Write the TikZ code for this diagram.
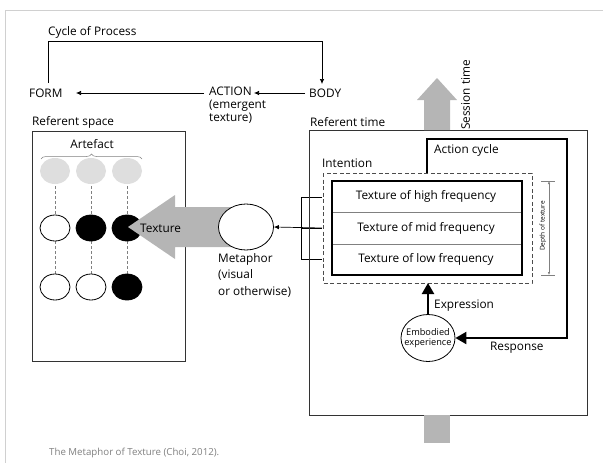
\documentclass[tikz,border=0pt]{standalone}
\usepackage{fontspec}
\setmainfont{Open Sans}
\usetikzlibrary{arrows.meta,decorations.pathreplacing,shapes.geometric}
\definecolor{arrgray}{HTML}{B5B5B5}
\definecolor{ltgray}{HTML}{DEDEDE}
\definecolor{framegray}{HTML}{D0D0D0}
\begin{document}
\begin{tikzpicture}[x=1pt,y=-1pt,
  lbl/.style={font=\fontsize{11.8}{13}\selectfont,inner sep=0pt},
  thinarrow/.style={-{Latex[length=5pt,width=4.5pt]},line width=0.7pt},
  thickarrow/.style={-{Triangle[length=11pt,width=12pt]},line width=2.2pt},
  dot/.style={ellipse,minimum width=30pt,minimum height=26pt,inner sep=0pt,line width=0.8pt},
  bigellipse/.style={ellipse,draw,line width=0.8pt,minimum width=55pt,minimum height=46pt,inner sep=0pt},
  vdash/.style={dashed,draw=gray,line width=0.7pt,dash pattern=on 3pt off 2pt}
]
\useasboundingbox (0,0) rectangle (603,463);
% frame
\draw[framegray,line width=1pt] (5,463) -- (5,10) -- (603,10);

% top cycle
\node[lbl,anchor=west] (form) at (29,93) {FORM};
\node[lbl,anchor=north west,align=left,font=\fontsize{11.8}{13}\selectfont] (action) at (209,87) {ACTION\\(emergent\\texture)};
\node[lbl,anchor=west] (body) at (309,93) {BODY};
\node[lbl,anchor=south west] (cycle) at (48,39) {Cycle of Process};
\coordinate (ctl) at (48,41);
\coordinate (ctr) at (322,41);
\draw[line width=0.7pt] (48,83) -- (ctl) -- (ctr);
\draw[thinarrow] (ctr) -- (322,84);
\draw[thinarrow] (305,93) -- (254,93);
\draw[thinarrow] (204,93) -- (76,93);

% left box
\node[lbl,anchor=west] (refspace) at (32,122) {Referent space};
\draw[line width=0.7pt,draw=black!80] (32,131) rectangle (185,361);
\node[lbl,anchor=south] (artefact) at (92,149) {Artefact};
\draw[decorate,decoration={brace,amplitude=5pt},draw=gray,line width=0.5pt] (41,159) -- (142,159);

% dots
\foreach \c/\x in {1/55,2/91,3/127}{
  \draw[vdash] (\x,171) -- (\x,287);
}
\foreach \c/\x in {1/55,2/91,3/127}{
  \node[dot,fill=ltgray] (g\c) at (\x,171) {};
}
\node[dot,draw,fill=white] (m1) at (55,228) {};
\node[dot,draw,fill=black] (m2) at (91,228) {};
\node[dot,draw,fill=black] (m3) at (127,228) {};
\node[dot,draw,fill=white] (b1) at (55,287) {};
\node[dot,draw,fill=white] (b2) at (91,287) {};
\node[dot,draw,fill=black] (b3) at (127,287) {};

% texture arrow
\fill[arrgray] (128,227) -- (175,195) -- (175,207) -- (235,207) -- (235,247) -- (175,247) -- (175,259) -- cycle;
\node[lbl,anchor=west] (texture) at (140,228) {Texture};

% metaphor
\node[bigellipse,fill=white] (metaphor) at (246,227) {};
\node[lbl,anchor=north west,align=left,font=\fontsize{11.8}{16.5}\selectfont] (metlbl) at (218,253) {Metaphor\\(visual\\or otherwise)};

% bracket and arrow
\coordinate (br1) at (322,197);
\coordinate (br2) at (322,228);
\coordinate (br3) at (322,259);
\draw[line width=0.7pt] (br1) -- (301,197) -- (301,259) -- (br3);
\draw[line width=0.7pt] (301,228) -- (br2);
\draw[thinarrow] (br2) -- (metaphor.east);

% right box
\node[lbl,anchor=west] (reftime) at (310,122) {Referent time};
\draw[line width=0.7pt,draw=black!80] (309,130) rectangle (587,415);

% session time arrow
\fill[arrgray] (424,130) -- (424,100) -- (417,100) -- (437,78) -- (457,100) -- (450,100) -- (450,130) -- cycle;
\fill[arrgray] (424,415) rectangle (450,443);
\node[lbl,rotate=90,anchor=north] (session) at (461,95) {Session time};

% action cycle
\draw[line width=2.2pt] (427,173) -- (427,139) -- (567,139) -- (567,338) -- (540,338);
\node[lbl,anchor=west] (actcyc) at (434,150) {Action cycle};
\node[lbl,anchor=west] (intention) at (322,163) {Intention};

% dashed box
\draw[dashed,line width=0.7pt,draw=black!70,dash pattern=on 4pt off 2.5pt] (323,173) rectangle (532,283);
% texture box
\draw[line width=0.7pt,draw=gray] (332,212) -- (522,212);
\draw[line width=0.7pt,draw=gray] (332,244) -- (522,244);
\draw[line width=2.4pt] (332,181) rectangle (522,275);
\node[lbl] (high) at (426,196) {Texture of high frequency};
\node[lbl] (mid) at (426,228) {Texture of mid frequency};
\node[lbl] (low) at (426,259) {Texture of low frequency};

% depth of texture
\draw[gray,line width=0.5pt] (541,181) -- (555,181);
\draw[gray,line width=0.5pt] (541,275) -- (555,275);
\draw[gray,line width=0.5pt,{Latex[length=3pt,width=2.5pt]}-{Latex[length=3pt,width=2.5pt]}] (549,181) -- (549,275);
\node[rotate=90,font=\fontsize{6.5}{7}\selectfont,inner sep=0pt] (depth) at (543,226) {Depth of texture};

% embodied experience
\node[bigellipse,minimum width=54pt,minimum height=47pt] (emb) at (428,338) {};
\node[inner sep=0pt,align=center,font=\fontsize{9.2}{10.5}\selectfont] (embtxt) at (emb.center) {Embodied\\experience};
\draw[thickarrow] (emb.north) -- (428,283);
\draw[thickarrow] (540,338) -- (emb.east);
\node[lbl,anchor=west] (expr) at (434,306) {Expression};
\node[lbl,anchor=west] (resp) at (490,348) {Response};

% caption
\node[font=\fontsize{9.7}{11}\selectfont,text=gray,anchor=west,inner sep=0pt] (caption) at (49,453) {The Metaphor of Texture (Choi, 2012).};
\end{tikzpicture}
\end{document}
